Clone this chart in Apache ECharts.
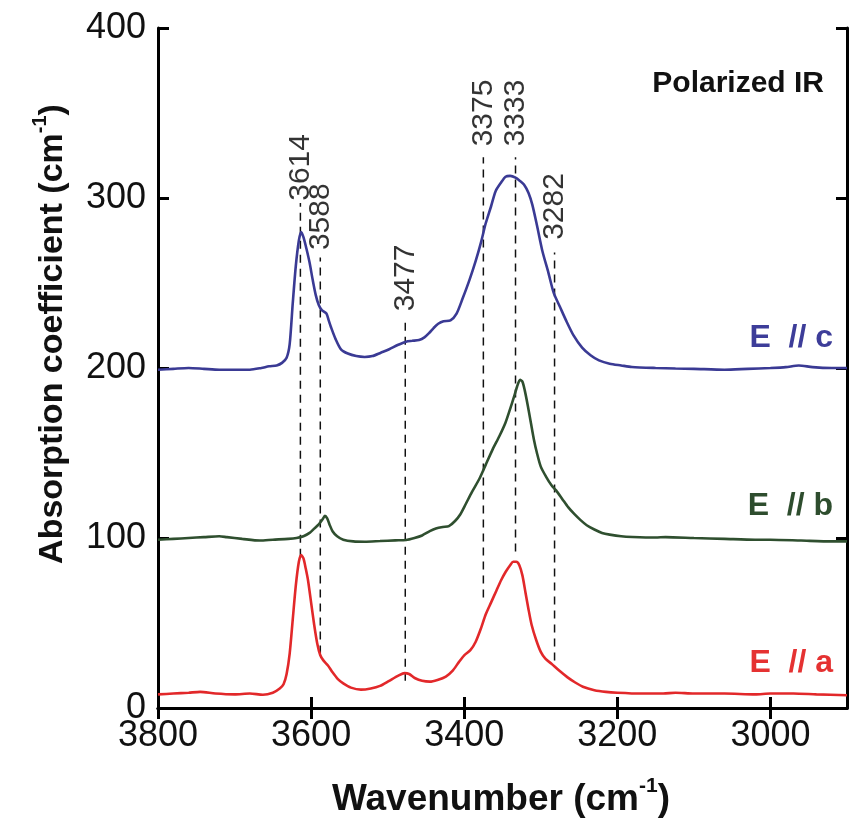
<!DOCTYPE html>
<html>
<head>
<meta charset="utf-8">
<script src="https://cdn.jsdelivr.net/npm/echarts@6/dist/echarts.min.js"></script>
<style>html,body{margin:0;padding:0;background:#fff;}#c{width:850px;height:831px;}</style>
</head>
<body>
<div id="c"></div>
<script>
// ---- Data ----
const xTicks = [3800, 3600, 3400, 3200, 3000];
const yTicks = [0, 100, 200, 300, 400];

// E // a (red)
const aWn = [3800,3780,3760,3745,3725,3700,3680,3663,3650,3641,3636,3632,3628,3624,3620,3616,3613,3610,3607,3604,3600,3596,3592,3588,3584,3578,3572,3565,3558,3548,3535,3522,3510,3498,3486,3478,3472,3464,3455,3445,3435,3424,3415,3407,3400,3392,3385,3378,3372,3365,3358,3352,3346,3340,3336,3332,3328,3324,3320,3316,3312,3306,3300,3294,3286,3276,3265,3255,3245,3230,3215,3200,3170,3140,3124,3100,3060,3020,3000,2970,2940,2900];
const aVal = [8,8.5,9,9.5,8.5,8,8.5,7.8,9,11.5,14,20,32,52,72,86,90,88,82,75,62,49,38,31,28,25,21,17,14.5,12,10.8,11.5,13,16,19,20.5,20,17.5,16,15.5,16.5,18.5,22,27,31,34,39,47,55,62,69,75,80,84,86,86,84,78,68,58,49,40,33,29,26,22,18,15,12.5,10.5,9.5,9,8.5,8.5,9,8.5,8.5,8,8.5,8.5,8,7.5];

// E // b (green)
const bWn = [3800,3780,3760,3740,3720,3710,3690,3667,3650,3630,3619,3610,3602,3596,3590,3585,3582,3579,3576,3572,3566,3558,3545,3530,3510,3490,3476,3465,3455,3445,3437,3428,3420,3412,3405,3398,3390,3380,3372,3363,3354,3346,3340,3335,3331,3327,3324,3321,3317,3313,3309,3305,3300,3293,3286,3280,3272,3264,3256,3248,3240,3230,3220,3210,3195,3180,3150,3137,3100,3060,3020,3000,2960,2920,2900];
const bVal = [99,99.5,100,100.5,101,100.5,99.5,98.5,99,99.5,100,101,103,105.5,108,111,113,111.5,108,104,101,99,98,97.8,98.2,98.6,98.8,100,101.5,104,105.6,106.5,107,110,114,120,127,135,143,152,160,168,176,183,189,193,192,187,178,168,158,150,142,136,131,128,123,118,114,110.5,107.5,105,103,102,101,100.6,100.3,100.5,100,99.5,99,99,98.5,98,98];

// E // c (blue)
const cWn = [3800,3780,3760,3740,3720,3700,3680,3665,3655,3645,3638,3632,3628,3624,3620,3616,3613,3610,3606,3602,3598,3594,3590,3586,3580,3577,3574,3568,3561,3552,3541,3530,3520,3509,3498,3487,3476,3468,3459,3452,3446,3440,3434,3427,3418,3410,3402,3393,3385,3378,3372,3365,3359,3352,3346,3340,3333,3327,3322,3316,3311,3305,3298,3290,3283,3275,3267,3257,3246,3235,3224,3210,3195,3181,3150,3124,3100,3060,3030,3000,2980,2963,2945,2920,2900];
const cVal = [199,199.5,200,199.5,199,199,199,200,201,201.5,203,206,214,238,260,275,280,277,270,262,252,243,237,234,232,228,224,217,211,208.5,207,206.5,207,209,211,213.5,215.5,216,216.5,218,220.5,223.5,226,227.5,228,232,241,252,263,274,285,295,304,309,312.5,313,312,310,308,303,296,284,269,256,244,236,228,219,212,207.5,204.5,202.5,201.5,200.6,200,199.7,199.5,199,199.5,200,200.5,201.5,200.5,200,200];

// Peak markers
const peakWn = [3614, 3588, 3477, 3375, 3333, 3282];
const peakLineTop = [297, 265, 228, 324, 324, 268];
const peakLineBottom = [89, 32, 16, 65, 92, 28];
const peakLabelAt = [318, 289, 253, 350, 350, 295];

const seriesNames = ['E // a', 'E // b', 'E // c'];
const seriesColors = ['#e2282a', '#2f4f2f', '#3a3a94'];
const labelColors = ['#e53232', '#2e4d2e', '#3d3d99'];

// ---- Build ----
const zip = (w, v) => w.map((x, i) => [x, v[i]]);
const chart = echarts.init(document.getElementById('c'), null, {renderer: 'canvas'});

const axisLineStyle = {color: '#000', width: 3};
const tickStyle = {inside: true, length: 11, lineStyle: {color: '#000', width: 3}};
const font = 'Liberation Sans, Arial, sans-serif';

const series = [];
[[aWn, aVal], [bWn, bVal], [cWn, cVal]].forEach((d, i) => {
  series.push({
    type: 'line', name: seriesNames[i], data: zip(d[0], d[1]),
    showSymbol: false, symbol: 'none', smooth: 0.25,
    lineStyle: {color: seriesColors[i], width: 2.6}, z: 3, silent: true
  });
});
peakWn.forEach((w, i) => {
  series.push({
    type: 'line', data: [[w, peakLineBottom[i]], [w, peakLineTop[i]]],
    symbol: 'none', showSymbol: false, silent: true, z: 2,
    lineStyle: {color: '#111', width: 1.5, type: [8, 6]}
  });
});
series.push({
  type: 'scatter', symbolSize: 0, silent: true, z: 4,
  data: peakWn.map((w, i) => [w, peakLabelAt[i]]),
  label: {
    show: true, position: 'inside', rotate: 90,
    formatter: p => String(p.value[0]),
    fontFamily: font, fontSize: 30, color: '#000', textBorderWidth: 0
  }
});

chart.setOption({
  animation: false,
  backgroundColor: '#fff',
  grid: {left: 158, right: 3, top: 28, bottom: 123, containLabel: false},
  xAxis: [{
    type: 'value', min: 2900, max: 3800, inverse: true,
    axisLine: {show: true, lineStyle: axisLineStyle},
    axisTick: {show: true, ...tickStyle, customValues: xTicks},
    axisLabel: {show: true, customValues: xTicks, formatter: v => String(v), margin: 10, fontFamily: font, fontSize: 36, color: '#111'},
    splitLine: {show: false}
  }, {
    type: 'value', min: 2900, max: 3800, inverse: true, position: 'top',
    axisLine: {show: true, lineStyle: axisLineStyle},
    axisTick: {show: true, ...tickStyle, customValues: xTicks},
    axisLabel: {show: false}, splitLine: {show: false}
  }],
  yAxis: [{
    type: 'value', min: 0, max: 400, interval: 100,
    axisLine: {show: true, lineStyle: axisLineStyle},
    axisTick: {show: true, ...tickStyle},
    axisLabel: {show: true, formatter: v => String(v), margin: 12, fontFamily: font, fontSize: 36, color: '#111'},
    splitLine: {show: false}
  }, {
    type: 'value', min: 0, max: 400, interval: 100, position: 'right',
    axisLine: {show: true, lineStyle: axisLineStyle},
    axisTick: {show: true, ...tickStyle},
    axisLabel: {show: false}, splitLine: {show: false}
  }],
  series: series,
  graphic: [
    {
      type: 'text', x: 50, y: 334, rotation: Math.PI / 2,
      style: {
        text: '{a|Absorption coefficient (cm}{s|-1}{a|)}',
        align: 'center', verticalAlign: 'middle',
        rich: {
          a: {fontFamily: font, fontWeight: 'bold', fontSize: 34, lineHeight: 40, fill: '#111', verticalAlign: 'bottom'},
          s: {fontFamily: font, fontWeight: 'bold', fontSize: 20, lineHeight: 40, fill: '#111', verticalAlign: 'top', padding: [0, 0, 16, 0]}
        }
      }
    },
    {
      type: 'text', x: 501, y: 797,
      style: {
        text: '{a|Wavenumber (cm}{s|-1}{a|)}',
        align: 'center', verticalAlign: 'middle',
        rich: {
          a: {fontFamily: font, fontWeight: 'bold', fontSize: 37, lineHeight: 42, fill: '#111', verticalAlign: 'bottom'},
          s: {fontFamily: font, fontWeight: 'bold', fontSize: 21, lineHeight: 42, fill: '#111', verticalAlign: 'top', padding: [0, 0, 16, 0]}
        }
      }
    },
    {type: 'text', x: 824, y: 84, style: {text: 'Polarized IR', align: 'right', verticalAlign: 'middle', fontFamily: font, fontWeight: 'bold', fontSize: 30, fill: '#111'}},
    {type: 'text', x: 833, y: 338, style: {text: 'E  // c', align: 'right', verticalAlign: 'middle', fontFamily: font, fontWeight: 'bold', fontSize: 32, fill: labelColors[2]}},
    {type: 'text', x: 833, y: 506, style: {text: 'E  // b', align: 'right', verticalAlign: 'middle', fontFamily: font, fontWeight: 'bold', fontSize: 32, fill: labelColors[1]}},
    {type: 'text', x: 833, y: 663, style: {text: 'E  // a', align: 'right', verticalAlign: 'middle', fontFamily: font, fontWeight: 'bold', fontSize: 32, fill: labelColors[0]}}
  ]
});
</script>
</body>
</html>
